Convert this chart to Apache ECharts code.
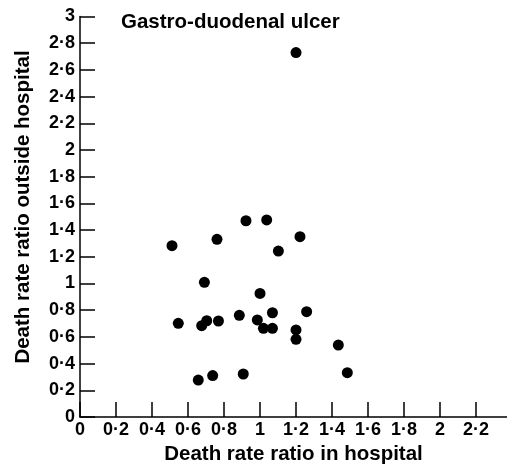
<!DOCTYPE html>
<html>
<head>
<meta charset="utf-8">
<script src="https://cdn.jsdelivr.net/npm/echarts@6/dist/echarts.min.js"></script>
<style>html,body{margin:0;padding:0;background:#fff;}#c{width:507px;height:472px;}</style>
</head>
<body>
<div id="c"></div>
<script>
// Death rate ratio in hospital (x) vs outside hospital (y)
var inHospital = [0.511, 0.761, 0.691, 0.546, 0.676, 0.704, 0.769, 0.885, 0.985, 0.657, 0.737, 0.907, 1.0, 1.222, 1.102, 1.069, 1.259, 1.019, 1.069, 1.2, 1.2, 1.435, 1.485, 1.2, 0.922, 1.037];
var outsideHospital = [1.283, 1.331, 1.009, 0.702, 0.684, 0.721, 0.719, 0.762, 0.727, 0.277, 0.310, 0.322, 0.926, 1.351, 1.243, 0.781, 0.789, 0.664, 0.664, 0.652, 0.582, 0.539, 0.332, 2.73, 1.47, 1.476];
var xTicks = [0, 0.2, 0.4, 0.6, 0.8, 1, 1.2, 1.4, 1.6, 1.8, 2, 2.2];
var yTicks = [0, 0.2, 0.4, 0.6, 0.8, 1, 1.2, 1.4, 1.6, 1.8, 2, 2.2, 2.4, 2.6, 2.8, 3];
var titleText = 'Gastro-duodenal ulcer';
var xName = 'Death rate ratio in hospital';
var yName = 'Death rate ratio outside hospital';

var points = inHospital.map(function (v, i) { return [v, outsideHospital[i]]; });
function fmt(v) { return String(Math.round(v * 10) / 10).replace('.', '\u00b7'); }
var font = 'Liberation Sans, Arial, Helvetica, sans-serif';
var chart = echarts.init(document.getElementById('c'), null, {renderer: 'canvas'});
chart.setOption({
  animation: false,
  backgroundColor: '#fff',
  title: {
    text: titleText, left: 121, top: 12, padding: 0,
    textStyle: {fontFamily: font, fontSize: 20.5, fontWeight: 'bold', color: '#000'}
  },
  grid: {left: 80, right: 0, top: 16.5, bottom: 55, containLabel: false},
  xAxis: {
    type: 'value', min: 0, max: 2.372,
    name: xName, nameLocation: 'middle', nameGap: 26,
    nameTextStyle: {fontFamily: font, fontSize: 20.5, fontWeight: 'bold', color: '#000'},
    axisLine: {show: true, lineStyle: {color: '#000', width: 1.5}},
    axisTick: {show: true, inside: true, length: 15, customValues: xTicks, lineStyle: {color: '#000', width: 1.5}},
    axisLabel: {customValues: xTicks, formatter: fmt, margin: 4, fontFamily: font, fontSize: 18, fontWeight: 'bold', color: '#000'},
    splitLine: {show: false}
  },
  yAxis: {
    type: 'value', min: 0, max: 3,
    axisLine: {show: true, lineStyle: {color: '#000', width: 1.5}},
    axisTick: {show: true, inside: true, length: 15, customValues: yTicks, lineStyle: {color: '#000', width: 1.5}},
    axisLabel: {customValues: yTicks, formatter: fmt, margin: 5, fontFamily: font, fontSize: 18, fontWeight: 'bold', color: '#000'},
    splitLine: {show: false}
  },
  graphic: [{
    type: 'text', x: 23, y: 207, rotation: Math.PI / 2,
    style: {text: yName, align: 'center', verticalAlign: 'middle', font: 'bold 20.5px ' + font, fill: '#000'}
  }],
  series: [{
    type: 'scatter', data: points, symbol: 'circle', symbolSize: 11,
    itemStyle: {color: '#000', opacity: 1}
  }]
});
</script>
</body>
</html>
